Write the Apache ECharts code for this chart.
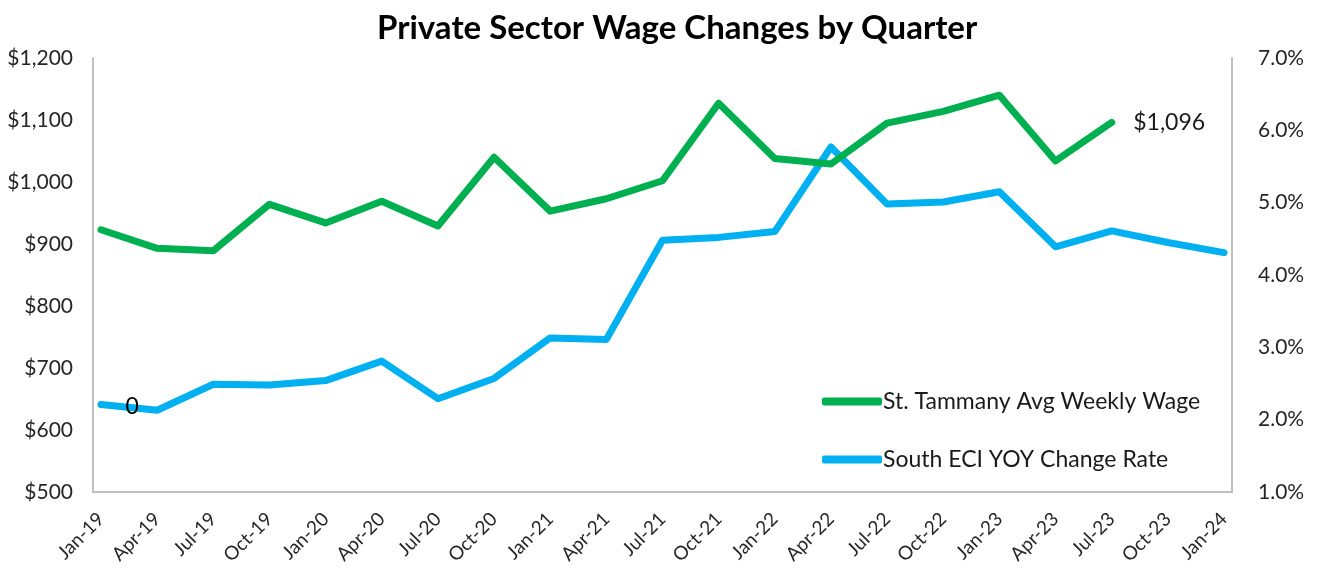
<!DOCTYPE html>
<html>
<head>
<meta charset="utf-8">
<script src="https://cdn.jsdelivr.net/npm/echarts@6/dist/echarts.min.js"></script>
<style>html,body{margin:0;padding:0;background:#fff;}#c{width:1320px;height:571px;}</style>
</head>
<body>
<div id="c"></div>
<script>
const categories = ['Jan-19','Apr-19','Jul-19','Oct-19','Jan-20','Apr-20','Jul-20','Oct-20','Jan-21','Apr-21','Jul-21','Oct-21','Jan-22','Apr-22','Jul-22','Oct-22','Jan-23','Apr-23','Jul-23','Oct-23','Jan-24'];
const wageValues = [923, 893, 889, 964, 934, 969, 929, 1040, 953, 973, 1002, 1127, 1038, 1029, 1095, 1114, 1140, 1034, 1096, null, null];
const eciValues = [2.21, 2.13, 2.49, 2.48, 2.54, 2.81, 2.29, 2.57, 3.13, 3.11, 4.48, 4.52, 4.60, 5.77, 4.98, 5.01, 5.15, 4.39, 4.61, 4.45, 4.31];
const leftTicks = {min: 500, max: 1200, interval: 100};
const rightTicks = {min: 1, max: 7, interval: 1};
const seriesNames = ['St. Tammany Avg Weekly Wage', 'South ECI YOY Change Rate'];

const FONT = 'Lato, "Open Sans", sans-serif';
const chart = echarts.init(document.getElementById('c'), null, {renderer: 'canvas'});

const wageData = wageValues.map((v, i) => {
  if (i === 18) {
    return {value: v, label: {show: true, position: 'right', distance: 21, formatter: p => '$' + p.value.toLocaleString('en-US'), fontSize: 23, color: '#1a1a1a', fontFamily: FONT}};
  }
  return v;
});
const eciData = eciValues.map((v, i) => {
  if (i === 0) {
    return {value: v, label: {show: true, position: 'right', distance: 24, formatter: '0', fontSize: 23, color: '#000', fontFamily: FONT, offset: [0, 2]}};
  }
  return v;
});

chart.setOption({
  animation: false,
  backgroundColor: '#fff',
  title: {
    text: 'Private Sector Wage Changes by Quarter',
    left: 372, top: 7,
    textStyle: {fontFamily: FONT, fontWeight: 'bold', fontSize: 33, color: '#000'}
  },
  legend: {
    orient: 'vertical',
    left: 817, top: 385,
    itemWidth: 60, itemHeight: 8, itemGap: 35,
    icon: 'roundRect',
    data: seriesNames,
    textStyle: {fontFamily: FONT, fontSize: 23, color: '#1a1a1a', padding: [0, 0, 0, -4]}
  },
  grid: [
    {left: 93, right: 88, top: 58, bottom: 79, containLabel: false},
    {left: 101, right: 96, top: 58, bottom: 79, containLabel: false}
  ],
  xAxis: [
    {type: 'category', gridIndex: 0, data: categories, boundaryGap: false,
     axisLine: {show: true, lineStyle: {color: '#c0c0c0', width: 2}},
     axisTick: {show: false}, axisLabel: {show: false}, splitLine: {show: false}},
    {type: 'category', gridIndex: 1, data: categories, boundaryGap: false,
     axisLine: {show: false}, axisTick: {show: false}, splitLine: {show: false},
     axisLabel: {rotate: 45, interval: 0, margin: 24, fontFamily: FONT, fontSize: 19, color: '#262626'}}
  ],
  yAxis: [
    {type: 'value', gridIndex: 0, position: 'left', min: leftTicks.min, max: leftTicks.max, interval: leftTicks.interval,
     axisLine: {show: true, lineStyle: {color: '#c0c0c0', width: 2}}, axisTick: {show: false}, splitLine: {show: false},
     axisLabel: {margin: 20, fontFamily: FONT, fontSize: 21, color: '#262626', formatter: v => '$' + v.toLocaleString('en-US')}},
    {type: 'value', gridIndex: 0, position: 'right', min: rightTicks.min, max: rightTicks.max, interval: rightTicks.interval,
     axisLine: {show: true, lineStyle: {color: '#c0c0c0', width: 2}}, axisTick: {show: false}, splitLine: {show: false},
     axisLabel: {margin: 26, fontFamily: FONT, fontSize: 21, color: '#262626', formatter: v => v.toFixed(1) + '%'}},
    {type: 'value', gridIndex: 1, min: leftTicks.min, max: leftTicks.max, interval: leftTicks.interval, show: false},
    {type: 'value', gridIndex: 1, position: 'right', min: rightTicks.min, max: rightTicks.max, interval: rightTicks.interval, show: false}
  ],
  series: [
    {name: seriesNames[0], type: 'line', xAxisIndex: 1, yAxisIndex: 2, data: wageData,
     symbol: 'circle', symbolSize: 1, showSymbol: true,
     lineStyle: {color: '#00B050', width: 7, cap: 'round', join: 'round'}, itemStyle: {color: '#00B050'}, z: 3},
    {name: seriesNames[1], type: 'line', xAxisIndex: 1, yAxisIndex: 3, data: eciData,
     symbol: 'circle', symbolSize: 1, showSymbol: true,
     lineStyle: {color: '#00B0F0', width: 7, cap: 'round', join: 'round'}, itemStyle: {color: '#00B0F0'}, z: 2}
  ]
});
</script>
</body>
</html>
